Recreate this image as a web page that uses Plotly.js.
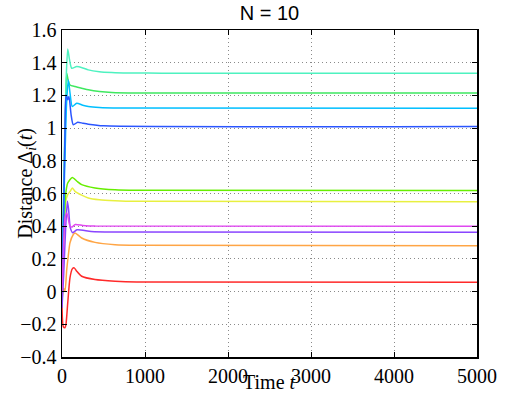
<!DOCTYPE html>
<html>
<head>
<meta charset="utf-8">
<script src="https://cdn.plot.ly/plotly-3.0.1.min.js"></script>
<style>
html,body{margin:0;padding:0;background:#fff;}
#chart{width:507px;height:394px;}
#chart .xtick text, #chart .ytick text {font-family: 'Liberation Serif', serif !important;}
</style>
</head>
<body>
<div id="chart"></div>
<script>
// Series: time points and distance values
const tAqua = [0, 30, 50, 69, 90, 117, 177, 250, 317, 450, 600, 800, 1200, 5000];
const vAqua = [0.1, 0.9, 1.3, 1.484, 1.42, 1.366, 1.376, 1.368, 1.356, 1.345, 1.34, 1.337, 1.336, 1.336];

const tGreen = [0, 25, 45, 57, 75, 96, 157, 250, 317, 450, 600, 900, 5000];
const vGreen = [0.05, 0.7, 1.15, 1.336, 1.29, 1.264, 1.254, 1.242, 1.234, 1.224, 1.218, 1.215, 1.214];

const tLblue = [0, 30, 55, 76, 100, 124, 177, 250, 317, 450, 700, 5000];
const vLblue = [0.0, 0.7, 1.15, 1.295, 1.2, 1.132, 1.152, 1.14, 1.132, 1.126, 1.123, 1.122];

const tBlue = [0, 20, 35, 48, 69, 84, 110, 136, 189, 250, 317, 500, 5000];
const vBlue = [-0.08, 0.5, 0.95, 1.203, 1.173, 1.193, 1.08, 1.02, 1.036, 1.03, 1.024, 1.014, 1.010];

const tYgreen = [0, 20, 45, 69, 124, 180, 237, 398, 640, 900, 5000];
const vYgreen = [0.0, 0.35, 0.6, 0.664, 0.698, 0.675, 0.654, 0.634, 0.623, 0.620, 0.619];

const tYellow = [0, 20, 45, 69, 100, 124, 157, 237, 317, 450, 640, 900, 5000];
const vYellow = [0.0, 0.3, 0.55, 0.593, 0.615, 0.634, 0.613, 0.59, 0.573, 0.562, 0.556, 0.552, 0.55];

const tMagenta = [0, 20, 40, 60, 96, 120, 160, 250, 400, 5000];
const vMagenta = [0.0, 0.3, 0.46, 0.48, 0.40, 0.395, 0.41, 0.405, 0.401, 0.399];

const tViolet = [0, 20, 45, 65, 80, 100, 130, 180, 350, 600, 5000];
const vViolet = [-0.1, 0.1, 0.4, 0.552, 0.5, 0.39, 0.36, 0.378, 0.368, 0.364, 0.363];

const tOrange = [0, 20, 36, 57, 75, 96, 136, 157, 237, 398, 640, 900, 5000];
const vOrange = [-0.05, 0.02, 0.002, 0.135, 0.216, 0.298, 0.349, 0.359, 0.328, 0.301, 0.287, 0.283, 0.281];

const tRed = [0, 16, 36, 48, 69, 96, 124, 148, 177, 237, 398, 640, 900, 5000];
const vRed = [-0.08, -0.215, -0.221, -0.2, -0.069, 0.084, 0.139, 0.145, 0.125, 0.094, 0.074, 0.064, 0.059, 0.057];

const xTicks = [0, 1000, 2000, 3000, 4000, 5000];
const yTicks = [-0.4, -0.2, 0, 0.2, 0.4, 0.6, 0.8, 1, 1.2, 1.4, 1.6];

const series = [
  [tRed, vRed, '#ff2a2a'],
  [tOrange, vOrange, '#ffa545'],
  [tYellow, vYellow, '#e8f040'],
  [tYgreen, vYgreen, '#66ee00'],
  [tGreen, vGreen, '#3ee860'],
  [tAqua, vAqua, '#4ef2c0'],
  [tLblue, vLblue, '#00bfff'],
  [tBlue, vBlue, '#2a55ff'],
  [tViolet, vViolet, '#8a45ff'],
  [tMagenta, vMagenta, '#e048f0']
];

const traces = series.map(s => ({
  x: s[0], y: s[1], type: 'scatter', mode: 'lines',
  line: {color: s[2], width: 1.5, shape: 'spline', smoothing: 0.6},
  hoverinfo: 'skip', showlegend: false
}));

const serif = 'Liberation Serif';

const layout = {
  width: 507, height: 394,
  margin: {l: 62, r: 30, t: 30, b: 37},
  paper_bgcolor: '#fff', plot_bgcolor: '#fff',
  font: {family: serif, size: 20, color: '#000'},
  title: {text: 'N = 10', font: {family: 'Liberation Sans', size: 20, color: '#000'},
          x: 0.5315, xanchor: 'center', y: 0.966, yanchor: 'middle'},
  xaxis: {
    range: [0, 5000], tickvals: xTicks, ticktext: xTicks.map(String),
    ticks: 'inside', ticklen: 5, tickcolor: '#000', mirror: 'ticks',
    showline: true, linecolor: '#000', linewidth: 1.5,
    showgrid: true, gridcolor: '#8a8a8a', griddash: '1px,3px', gridwidth: 1,
    zeroline: false, tickfont: {size: 20, color: '#000'}, automargin: false
  },
  yaxis: {
    range: [-0.4, 1.6], tickvals: yTicks,
    ticktext: yTicks.map(v => (v < 0 ? '\u2212' + Math.abs(v) : String(v))),
    ticks: 'inside', ticklen: 5, tickcolor: '#000', mirror: 'ticks',
    showline: true, linecolor: '#000', linewidth: 1.5,
    showgrid: true, gridcolor: '#8a8a8a', griddash: '1px,3px', gridwidth: 1,
    zeroline: false, tickfont: {size: 20, color: '#000'}, automargin: false
  },
  annotations: [
    {text: 'Time <i>t</i>', xref: 'paper', yref: 'paper', x: 0.5, y: -0.02,
     xanchor: 'center', yanchor: 'top', yshift: -5, showarrow: false,
     font: {family: serif, size: 20, color: '#000'}},
    {text: 'Distance \u0394<sub><i>i</i></sub>(<i>t</i>)', xref: 'paper', yref: 'paper',
     x: 0, y: 0.53, xshift: -35, xanchor: 'center', yanchor: 'middle', textangle: -90,
     showarrow: false, font: {family: serif, size: 20, color: '#000'}}
  ]
};

Plotly.newPlot('chart', traces, layout, {displayModeBar: false, staticPlot: true});
</script>
</body>
</html>
